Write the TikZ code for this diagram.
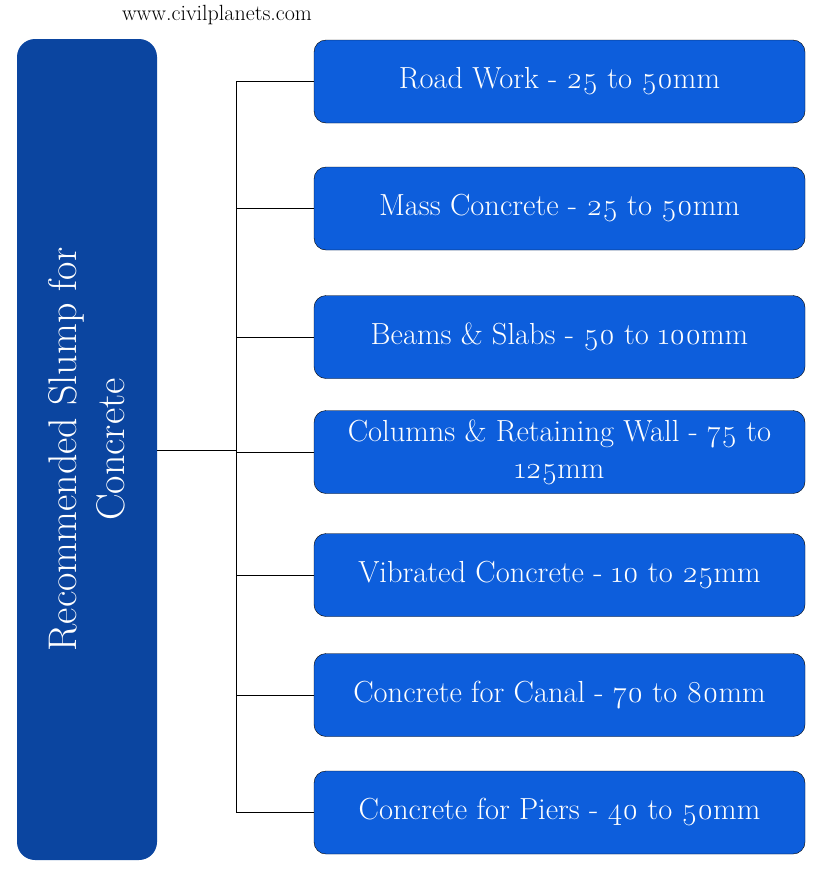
\documentclass[tikz,border=0pt]{standalone}
\usepackage{fontspec}
\setmainfont{Latin Modern Roman}[Numbers=OldStyle]
\usepackage{xcolor}
\definecolor{darkbox}{HTML}{0B45A0}
\definecolor{lightbox}{HTML}{0D5EDC}

\begin{document}
\begin{tikzpicture}[x=1pt,y=-1pt,thick,
		mainbox/.style={fill=darkbox,rounded corners=18pt,minimum width=140pt,minimum height=821pt,inner sep=0pt},
		itembox/.style={fill=lightbox,draw=black,thin,rounded corners=12pt,minimum width=491pt,minimum height=83pt,
			text=white,font=\fontsize{30.5}{37}\selectfont,align=center,inner sep=0pt}]
	\useasboundingbox (0,0) rectangle (840,871);
	
	\node at (217,15) {\fontsize{22}{24}\selectfont www.civilplanets.com};
	
	\node[mainbox] (slump) at (87,449.5) {};
	\node[rotate=90,text=white,align=center,font=\fontsize{40}{48}\selectfont] (slumptext) at (slump.center)
		{Recommended Slump for\\Concrete};
	
	\coordinate (bus) at (236,450);
	\draw (slump.east |- bus) -- (bus);
	
	\foreach \n/\y/\txt in {1/81.5/{Road Work - 25 to 50mm},
			2/208.5/{Mass Concrete - 25 to 50mm},
			3/337/{Beams \& Slabs - 50 to 100mm},
			4/452/{Columns \& Retaining Wall - 75 to\\125mm},
			5/575/{Vibrated Concrete - 10 to 25mm},
			6/695/{Concrete for Canal - 70 to 80mm},
			7/812.5/{Concrete for Piers - 40 to 50mm}}
	{
		\node[itembox] (item\n) at (559.5,\y) {\txt};
		\draw (item\n.west) -- (bus |- item\n.west);
	}
	\draw (bus |- item1.west) -- (bus |- item7.west);
\end{tikzpicture}
\end{document}
